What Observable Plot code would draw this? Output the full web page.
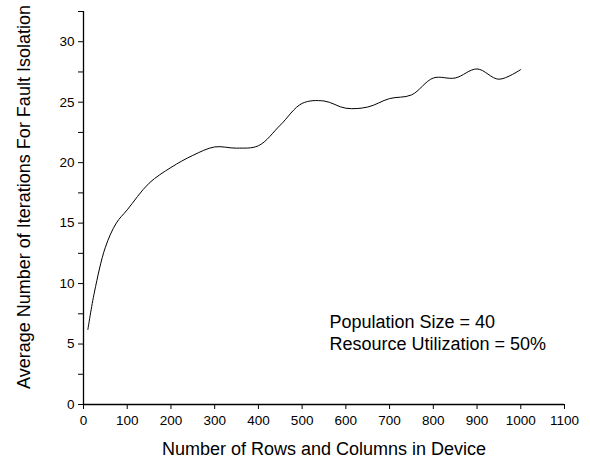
<!DOCTYPE html>
<html>
<head>
<meta charset="utf-8">
<script src="https://cdn.jsdelivr.net/npm/d3@7"></script>
<script src="https://cdn.jsdelivr.net/npm/@observablehq/plot@0.6"></script>
<style>
  html, body { margin: 0; padding: 0; background: #fff; }
  svg { display: block; }
</style>
</head>
<body>
<div id="chart"></div>
<script>
const devSize = [10, 25, 50, 75, 100, 150, 200, 250, 300, 350, 400, 450, 500, 550, 600, 650, 700, 750, 800, 850, 900, 950, 1000];
const avgIterations = [6.2, 9.3, 13.0, 15.0, 16.1, 18.3, 19.6, 20.6, 21.3, 21.2, 21.4, 23.1, 24.9, 25.1, 24.5, 24.6, 25.3, 25.6, 27.0, 27.0, 27.75, 26.9, 27.7];
const xTicks = [0, 100, 200, 300, 400, 500, 600, 700, 800, 900, 1000, 1100];
const yTicks = [0, 2.5, 5, 7.5, 10, 12.5, 15, 17.5, 20, 22.5, 25, 27.5, 30, 32.5];
const xLabel = "Number of Rows and Columns in Device";
const yLabel = "Average Number of Iterations For Fault Isolation";
const note = "Population Size = 40\nResource Utilization = 50%";

const data = devSize.map((x, i) => ({x, y: avgIterations[i]}));
const font = "Liberation Sans, Arial, Helvetica, sans-serif";

const chart = Plot.plot({
  width: 590,
  height: 462,
  marginLeft: 83,
  marginRight: 26,
  marginTop: 11,
  marginBottom: 58,
  style: {fontFamily: font, background: "#fff", color: "#000"},
  x: {domain: [0, 1100]},
  y: {domain: [0, 32.5]},
  marks: [
    Plot.axisX({ticks: xTicks, tickSize: 5, tickPadding: 6, fontSize: 13.5, label: null, strokeOpacity: 1,
      tickFormat: d => String(d)}),
    Plot.axisY({ticks: yTicks, tickSize: 5, tickPadding: 4, fontSize: 13.5, label: null, strokeOpacity: 1,
      tickFormat: d => (d % 5 === 0 ? String(d) : "")}),
    Plot.ruleX([0], {stroke: "#000", strokeWidth: 1.3}),
    Plot.ruleY([0], {stroke: "#000", strokeWidth: 1.3}),
    Plot.line(data, {x: "x", y: "y", curve: "catmull-rom", stroke: "#000", strokeWidth: 1}),
    Plot.text([xLabel], {frameAnchor: "bottom", dy: 50, fontSize: 18, lineAnchor: "bottom", fill: "#000"}),
    Plot.text([yLabel], {frameAnchor: "left", textAnchor: "middle", dx: -59, dy: -11, rotate: -90, fontSize: 18, lineAnchor: "middle", fill: "#000"}),
    Plot.text([note], {frameAnchor: "top-left", dx: 246, dy: 302, textAnchor: "start", lineAnchor: "top", lineHeight: 1.17, fontSize: 18, fill: "#000"})
  ]
});
document.getElementById("chart").appendChild(chart);
</script>
</body>
</html>
